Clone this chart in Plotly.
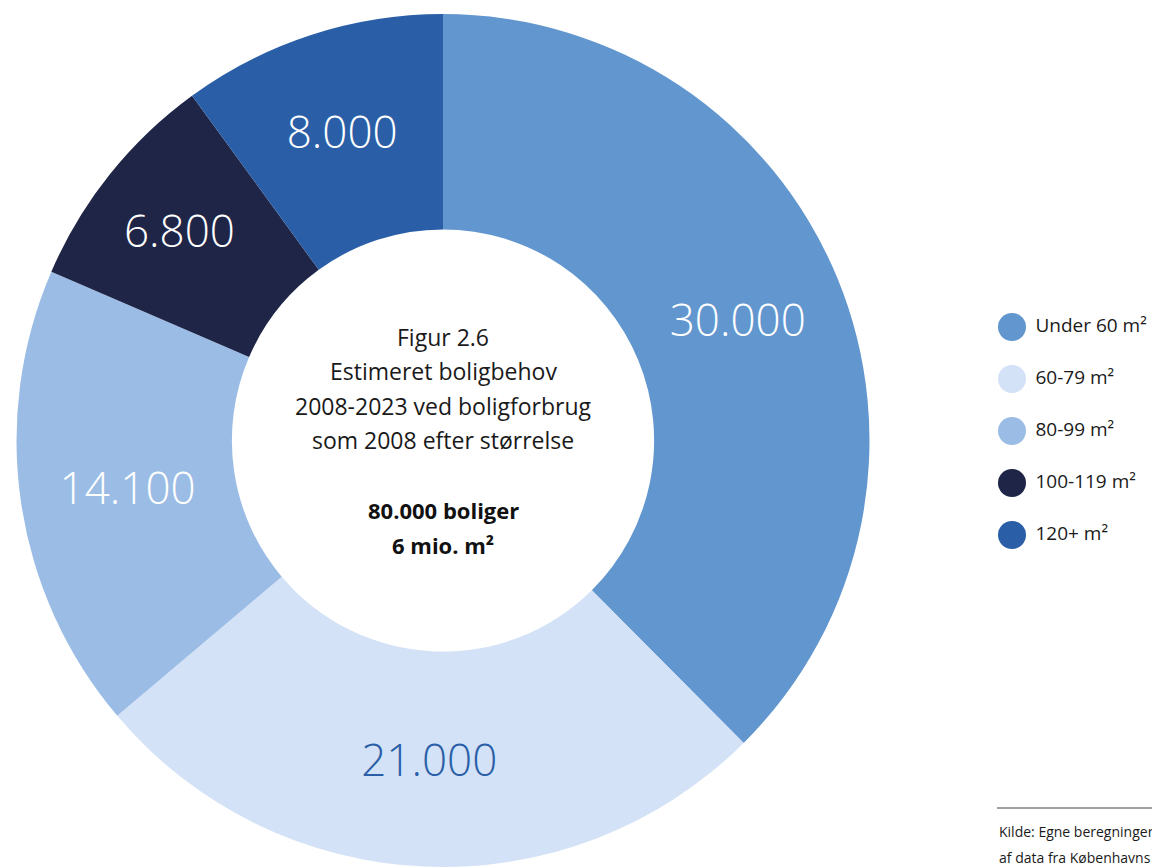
import plotly.graph_objects as go

categories = ["Under 60 m²", "60-79 m²", "80-99 m²", "100-119 m²", "120+ m²"]
values = [30000, 21000, 14100, 6800, 8000]
colors = ["#6296CF", "#D3E2F6", "#9BBDE5", "#1F2547", "#2A5FA8"]
label_colors = ["#FFFFFF", "#2A5FA8", "#FFFFFF", "#FFFFFF", "#FFFFFF"]

center_lines = ["Figur 2.6", "Estimeret boligbehov", "2008-2023 ved boligforbrug", "som 2008 efter størrelse"]
center_bold = ["80.000 boliger", "6 mio. m²"]
source_lines = ["Kilde: Egne beregninger", "af data fra Københavns"]

FONT = "Open Sans"
OFF = 8  # page body margin
W, H = 1160 - OFF, 867 - OFF
MT = 14 - OFF
PH = H - MT


def px(pix):
    return (pix - OFF) / W


def py(pix):
    return (H - (pix - OFF)) / PH


fig = go.Figure()

fig.add_trace(go.Pie(
    labels=categories,
    values=values,
    hole=0.495,
    sort=False,
    direction="clockwise",
    rotation=0,
    marker=dict(colors=colors, line=dict(width=0)),
    texttemplate="%{value:,.0f}",
    textposition="inside",
    insidetextorientation="horizontal",
    insidetextfont=dict(family=FONT, size=44, color=label_colors, weight=300),
    showlegend=False,
    hoverinfo="label+value",
    domain=dict(x=[px(15), px(871)], y=[0, 1]),
))

# Legend drawn as scatter markers on a hidden axis
fig.add_trace(go.Scatter(
    x=[0] * len(categories),
    y=list(range(len(categories))),
    mode="markers+text",
    marker=dict(size=28, color=colors),
    text=["\u00a0" + c for c in categories],
    textposition="middle right",
    textfont=dict(family=FONT, size=19, color="#1a1a1a"),
    cliponaxis=False,
    showlegend=False,
    hoverinfo="skip",
    xaxis="x2",
    yaxis="y2",
))

annotations = []
line_y = [337, 371, 406, 440]
for t, yy in zip(center_lines, line_y):
    annotations.append(dict(text=t, x=px(443), y=py(yy), xref="paper", yref="paper",
                            showarrow=False, xanchor="center", yanchor="middle",
                            font=dict(family=FONT, size=23, color="#1a1a1a")))
bold_y = [510, 545]
for t, yy in zip(center_bold, bold_y):
    annotations.append(dict(text="<b>" + t + "</b>", x=px(443), y=py(yy), xref="paper", yref="paper",
                            showarrow=False, xanchor="center", yanchor="middle",
                            font=dict(family=FONT, size=22, color="#111111")))
src_y = [831, 857]
for t, yy in zip(source_lines, src_y):
    annotations.append(dict(text=t, x=px(997), y=py(yy), xref="paper", yref="paper",
                            showarrow=False, xanchor="left", yanchor="middle",
                            font=dict(family=FONT, size=14, color="#1a1a1a")))

x2_lo = px(998)
fig.update_layout(
    width=W, height=H,
    margin=dict(l=0, r=0, t=MT, b=0),
    paper_bgcolor="white",
    plot_bgcolor="rgba(0,0,0,0)",
    separators=",.",
    showlegend=False,
    annotations=annotations,
    shapes=[dict(type="line", xref="paper", yref="paper",
                 x0=px(997), x1=1.0, y0=py(808), y1=py(808),
                 line=dict(color="#444444", width=1))],
    xaxis2=dict(domain=[x2_lo, 1.0], range=[-14 / ((1 - x2_lo) * W), 1 - 14 / ((1 - x2_lo) * W)],
                visible=False, fixedrange=True),
    yaxis2=dict(domain=[py(535), py(327)], range=[4, 0], visible=False, fixedrange=True,
                anchor="x2"),
)

fig.write_html("out.html")
